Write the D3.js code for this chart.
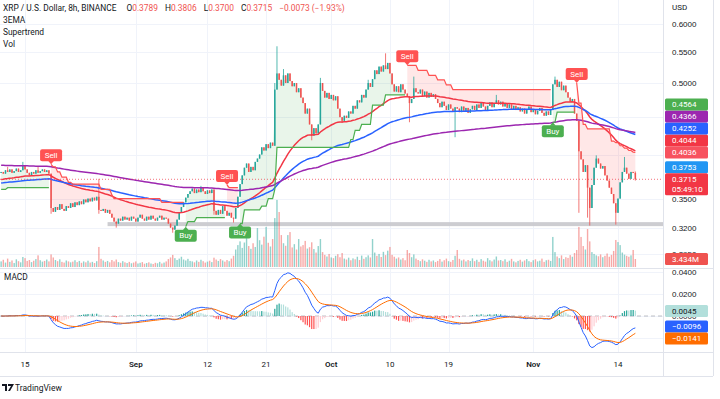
<!DOCTYPE html>
<html>
<head>
<meta charset="utf-8">
<script src="https://cdn.jsdelivr.net/npm/d3@7"></script>
<style>
  body { margin: 0; background: #fff; }
  svg { display: block; font-family: Roboto, "Liberation Sans", sans-serif; }
</style>
</head>
<body>
<svg id="chart" width="720" height="399"></svg>
<script>
// ---- data (Aug 11 - Nov 16, 2022) ----
var firstOpen = 0.379;
var closes = [
  0.380, 0.378, 0.382, 0.380, 0.383, 0.379, 0.381, 0.384, 0.380, 0.382,
  0.388, 0.383, 0.379, 0.376, 0.380, 0.378, 0.382, 0.379, 0.381, 0.383,
  0.380, 0.382, 0.378,
  0.340, 0.336, 0.341, 0.338, 0.344, 0.339, 0.337, 0.342, 0.340, 0.345,
  0.341, 0.346, 0.343, 0.347, 0.344, 0.349, 0.346, 0.350, 0.347, 0.351, 0.348, 0.352,
  0.338,
  0.337, 0.339, 0.335, 0.338, 0.334,
  0.330, 0.326, 0.324, 0.329, 0.327, 0.331, 0.328, 0.330,
  0.327, 0.331, 0.329, 0.326, 0.330, 0.333, 0.329, 0.327, 0.331, 0.328, 0.332, 0.329, 0.327, 0.330, 0.332, 0.328, 0.330, 0.329,
  0.324, 0.320, 0.318, 0.322,
  0.328, 0.335, 0.341, 0.346, 0.351, 0.355, 0.358,
  0.361, 0.356, 0.360, 0.357, 0.362, 0.358, 0.355, 0.359, 0.356, 0.360,
  0.337,
  0.333, 0.338, 0.334, 0.342, 0.337, 0.332, 0.335, 0.330,
  0.329,
  0.340, 0.352, 0.366, 0.376, 0.385,
  0.390, 0.380, 0.386, 0.382, 0.392, 0.396, 0.401,
  0.410, 0.406, 0.414, 0.409, 0.416, 0.412,
  0.490, 0.515,
  0.505, 0.496, 0.512, 0.500, 0.515, 0.503, 0.495,
  0.500, 0.486, 0.492, 0.478,
  0.470, 0.455, 0.462, 0.440, 0.425,
  0.435, 0.428, 0.440,
  0.500,
  0.488, 0.478, 0.485, 0.476, 0.482, 0.474, 0.480,
  0.462, 0.450, 0.445, 0.452,
  0.449, 0.458, 0.455, 0.466, 0.462, 0.474, 0.471, 0.482, 0.478, 0.490,
  0.500, 0.494, 0.506,
  0.520, 0.514, 0.526, 0.518, 0.528, 0.522, 0.532,
  0.515, 0.498, 0.487,
  0.495, 0.486, 0.498, 0.490, 0.484,
  0.480, 0.470, 0.476,
  0.492, 0.486,
  0.484, 0.490, 0.480, 0.487, 0.478, 0.485, 0.479, 0.483, 0.476,
  0.470, 0.464, 0.472, 0.466, 0.460, 0.468, 0.462, 0.458, 0.464,
  0.462, 0.457, 0.465, 0.459, 0.463, 0.456, 0.461, 0.466,
  0.460, 0.468, 0.463, 0.470, 0.465, 0.459, 0.466, 0.471, 0.464, 0.469, 0.474, 0.468,
  0.472, 0.465, 0.470, 0.463, 0.468, 0.461, 0.466, 0.460,
  0.464, 0.458, 0.462, 0.455, 0.460, 0.465, 0.457, 0.461, 0.454, 0.459, 0.463, 0.456, 0.452, 0.458, 0.453, 0.460,
  0.498, 0.505,
  0.494, 0.502, 0.489, 0.496, 0.486,
  0.478, 0.472, 0.476,
  0.455, 0.445,
  0.405, 0.395, 0.380, 0.388, 0.362, 0.340,
  0.365, 0.385, 0.396,
  0.390, 0.384, 0.387, 0.376, 0.370, 0.362, 0.355, 0.345,
  0.335,
  0.350, 0.368, 0.380, 0.385, 0.378,
  0.372, 0.380, 0.3789, 0.3715
];

// notable wicks: [candle index, price]
var wickHighs = [[3, 0.386], [10, 0.392], [17, 0.386], [45, 0.372], [92, 0.364], [126, 0.500], [127, 0.560],
  [130, 0.522], [147, 0.508], [169, 0.505], [177, 0.548], [190, 0.510], [228, 0.482], [255, 0.510],
  [274, 0.400], [287, 0.398], [292, 0.3806]];
var wickLows = [[23, 0.334], [45, 0.334], [53, 0.320], [79, 0.315], [98, 0.333], [107, 0.325], [143, 0.419],
  [157, 0.442], [188, 0.443], [209, 0.423], [266, 0.335], [270, 0.330], [271, 0.322], [283, 0.323], [292, 0.3700]];

// volume, millions
var volumes = [
  2.4, 3.1, 1.9, 3.6, 2.2, 2.8, 1.7, 3.3, 2.5, 2.0,
  4.3, 3.8, 2.6, 3.0, 2.1, 2.7, 3.4, 5.0, 2.9, 2.3,
  2.6, 3.2, 2.4,
  5.4, 4.1, 3.0, 2.5, 3.3, 2.2, 1.9, 2.8, 2.4, 2.0,
  2.3, 2.9, 2.1, 2.6, 1.8, 2.4, 2.0, 2.7, 1.9, 2.2, 1.7, 2.5,
  8.6,
  3.5, 2.8, 2.2, 2.6, 2.0,
  3.0, 2.4, 3.2, 2.1, 1.8, 2.5, 2.0, 1.7,
  2.2, 1.6, 1.9, 2.4, 1.5, 1.8, 2.1, 1.4, 1.7, 2.0, 1.5, 1.3, 1.8, 1.6, 2.2, 1.5, 1.9, 2.4,
  3.4, 4.1, 5.2, 3.8,
  3.0, 3.6, 4.4, 3.2, 2.8, 3.5, 2.6,
  2.4, 2.0, 2.8, 2.2, 3.1, 2.5, 1.9, 2.3, 2.7, 2.1,
  4.0,
  3.2, 2.6, 3.4, 2.8, 2.3, 3.0, 2.5, 3.6,
  4.8,
  7.5, 9.4, 11.0, 8.2, 10.5,
  12.4, 9.0, 7.8, 10.2, 8.6, 16.7, 11.5,
  9.6, 13.0, 17.2, 10.4, 8.8, 12.0,
  21.0, 28.8,
  23.6, 13.7, 10.2, 9.1, 13.7, 15.0, 8.4,
  9.8, 7.5, 12.0, 8.8,
  9.4, 11.2, 7.9, 8.5, 10.6,
  7.7, 6.2, 9.0,
  12.0,
  6.4, 5.2, 4.5, 5.6, 4.1, 3.8, 4.8,
  5.5, 4.2, 6.0, 3.6,
  3.2, 4.0, 2.9, 3.7, 3.3, 4.4, 3.0, 4.9, 3.5, 4.2,
  5.0, 4.1, 12.0,
  6.2, 4.8, 5.6, 4.3, 6.5, 5.1, 7.0,
  8.6, 5.2, 4.4,
  3.6, 4.1, 3.2, 3.8, 2.9,
  7.3, 6.0, 4.2,
  5.4, 3.6,
  3.0, 2.5, 3.3, 2.7, 2.2, 3.1, 2.4, 2.8, 2.1,
  2.6, 3.4, 2.3, 2.9, 3.6, 2.5, 2.2, 3.0, 4.8,
  7.3, 3.5, 2.8, 3.2, 2.4, 3.0, 2.6, 3.7,
  2.5, 3.1, 2.2, 3.4, 2.7, 2.3, 3.8, 2.9, 2.4, 3.2, 4.5, 2.8,
  3.0, 2.5, 3.3, 2.2, 2.7, 3.5, 2.4, 2.0,
  2.6, 3.1, 2.3, 2.8, 3.4, 2.5, 2.1, 2.9, 3.3, 2.4, 2.7, 3.6, 2.2, 2.9, 3.1, 2.6,
  12.9, 6.4,
  4.5, 3.8, 5.0, 3.4, 4.2,
  3.9, 5.1, 4.4,
  6.0, 7.3,
  17.2, 12.9, 9.0, 7.5, 16.3, 11.0,
  6.4, 5.6, 5.0,
  4.6, 5.4, 4.2, 4.8, 5.8, 4.4, 5.2, 6.9,
  11.6,
  10.7, 9.4, 6.2, 5.3, 4.8,
  4.4, 5.0, 7.3, 3.434
];

// 3EMA: periods and the values the lines start from at the left edge
var emaPeriods = [50, 100, 200];
var emaSeeds = [0.371, 0.367, 0.388];

// Supertrend segments: [candle index, level], level held until the next point
var trendUp = [
  [[0, 0.360], [3, 0.362], [22, 0.362]],
  [[85, 0.321], [86, 0.326], [90, 0.330], [103, 0.330]],
  [[110, 0.324], [112, 0.338], [120, 0.342], [123, 0.350], [126, 0.360], [127, 0.410], [161, 0.420],
   [163, 0.432], [166, 0.440], [171, 0.467], [177, 0.482], [186, 0.482]],
  [[254, 0.443], [256, 0.457], [264, 0.457]]
];
var trendDown = [
  [[23, 0.389], [24, 0.386], [26, 0.380], [28, 0.374], [31, 0.368], [33, 0.366], [46, 0.360], [51, 0.354],
   [52, 0.350], [74, 0.346], [84, 0.346]],
  [[104, 0.365], [105, 0.362], [109, 0.362]],
  [[187, 0.528], [192, 0.520], [197, 0.512], [201, 0.505], [205, 0.497], [208, 0.490], [253, 0.490]],
  [[265, 0.500], [266, 0.470], [268, 0.440], [270, 0.434], [280, 0.434], [281, 0.418], [283, 0.416],
   [285, 0.412], [287, 0.409], [289, 0.406], [291, 0.404], [292, 0.4036]]
];

var priceTicks = [0.6, 0.55, 0.5, 0.45, 0.4, 0.35, 0.32, 0.295];
var macdTicks = [0.04, 0.02, 0, -0.02];
var timeTicks = [["2022-08-15", "15"], ["2022-09-01", "Sep"], ["2022-09-12", "12"], ["2022-09-21", "21"],
  ["2022-10-01", "Oct"], ["2022-10-10", "10"], ["2022-10-19", "19"], ["2022-11-01", "Nov"], ["2022-11-14", "14"]];

var sideValues = [0.4564, 0.4366, 0.4252, 0.4044, 0.4036, 0.3753];
var lastPrice = 0.3715;
var countdown = "05:49:10";
var macdSideValues = [0.0045, -0.0096, -0.0141];
var ohlcText = [["O", "0.3789"], ["H", "0.3806"], ["L", "0.3700"], ["C", "0.3715"]];
var changeText = "\u22120.0073 (\u22121.93%)";
var zoneLevels = [0.3255, 0.3215];
var zoneStart = 49;

// ---- layout ----
var plotRight = 663, priceBottom = 267, macdTop = 269, macdBottom = 352;
var upColor = "#26a69a", downColor = "#ef5350";
var emaColors = ["#f23645", "#2962ff", "#9c27b0"];
var sideColors = ["#4caf50", "#9c27b0", "#2962ff", "#f23645", "#f7525f", "#2196f3"];
var macdSideColors = ["#b2dfdb", "#2962ff", "#ff6d00"];
var macdSideText = ["#131722", "#fff", "#fff"];

var svg = d3.select("#chart");
var dayMs = 864e5, hour = 36e5;
var sep1 = Date.UTC(2022, 8, 1);
var firstTime = Date.UTC(2022, 7, 11, 8);

var x = d3.scaleUtc()
  .domain([new Date(sep1 - 20.84 * dayMs), new Date(sep1 + 80.91 * dayMs)])
  .range([0, plotRight]);
var y = d3.scaleLog().domain([0.2834, 0.646]).range([priceBottom, 0]);
var yVol = d3.scaleLinear().domain([0, 114.6]).range([priceBottom, 0]);
var yMacd = d3.scaleLinear().domain([-0.0327, 0.0427]).range([macdBottom, macdTop]);

function xi(i) { return x(new Date(firstTime + i * 8 * hour)); }

// candles
var candles = closes.map(function (c, i) {
  var o = i === 0 ? firstOpen : closes[i - 1];
  return { i: i, o: o, c: c, h: Math.max(o, c), l: Math.min(o, c), v: volumes[i] };
});
wickHighs.forEach(function (w) { candles[w[0]].h = Math.max(candles[w[0]].h, w[1]); });
wickLows.forEach(function (w) { candles[w[0]].l = Math.min(candles[w[0]].l, w[1]); });

function ema(values, period, seed) {
  var k = 2 / (period + 1), prev = seed;
  return values.map(function (v) { prev = prev + k * (v - prev); return prev; });
}

// clip paths
var defs = svg.append("defs");
defs.append("clipPath").attr("id", "clipPrice").append("rect")
  .attr("x", 0).attr("y", 0).attr("width", plotRight).attr("height", priceBottom);
defs.append("clipPath").attr("id", "clipMacd").append("rect")
  .attr("x", 0).attr("y", macdTop).attr("width", plotRight).attr("height", macdBottom - macdTop);

// grid
var grid = svg.append("g").attr("stroke", "#f0f3fa").attr("stroke-width", 1);
timeTicks.forEach(function (t) {
  var gx = Math.round(x(new Date(t[0] + "T00:00:00Z"))) + 0.5;
  grid.append("line").attr("x1", gx).attr("x2", gx).attr("y1", 0).attr("y2", macdBottom);
});
priceTicks.forEach(function (p) {
  var gy = Math.round(y(p)) + 0.5;
  grid.append("line").attr("x1", 0).attr("x2", plotRight).attr("y1", gy).attr("y2", gy);
});
macdTicks.forEach(function (m) {
  var gy = Math.round(yMacd(m)) + 0.5;
  grid.append("line").attr("x1", 0).attr("x2", plotRight).attr("y1", gy).attr("y2", gy);
});

var pricePane = svg.append("g").attr("clip-path", "url(#clipPrice)");

// grey zone
pricePane.append("rect")
  .attr("x", xi(zoneStart)).attr("width", plotRight - xi(zoneStart))
  .attr("y", y(zoneLevels[0])).attr("height", y(zoneLevels[1]) - y(zoneLevels[0]))
  .attr("fill", "#c8c8cc").attr("opacity", 0.9);

// volume
pricePane.append("g").selectAll("rect").data(candles).enter().append("rect")
  .attr("x", function (d) { return xi(d.i) - 0.7; })
  .attr("width", 1.4)
  .attr("y", function (d) { return yVol(d.v); })
  .attr("height", function (d) { return priceBottom - yVol(d.v); })
  .attr("fill", function (d) { return d.c >= d.o ? upColor : downColor; })
  .attr("opacity", 0.5);

// supertrend per-bar levels
function expand(seg) {
  var out = [], k = 0;
  for (var i = seg[0][0]; i <= seg[seg.length - 1][0]; i++) {
    while (k + 1 < seg.length && seg[k + 1][0] <= i) k++;
    out.push({ i: i, v: seg[k][1], mid: (candles[i].o + candles[i].c) / 2 });
  }
  return out;
}
var stArea = d3.area().x(function (d) { return xi(d.i); })
  .y0(function (d) { return y(d.v); }).y1(function (d) { return y(d.mid); });
var stLine = d3.line().x(function (d) { return xi(d.i); }).y(function (d) { return y(d.v); });

trendUp.forEach(function (seg) {
  pricePane.append("path").attr("d", stArea(expand(seg))).attr("fill", "rgba(76,175,80,0.12)");
});
trendDown.forEach(function (seg) {
  pricePane.append("path").attr("d", stArea(expand(seg))).attr("fill", "rgba(255,82,82,0.14)");
});

// candles
var cg = pricePane.append("g");
cg.selectAll("line").data(candles).enter().append("line")
  .attr("x1", function (d) { return xi(d.i); }).attr("x2", function (d) { return xi(d.i); })
  .attr("y1", function (d) { return y(d.h); }).attr("y2", function (d) { return y(d.l); })
  .attr("stroke", function (d) { return d.c >= d.o ? upColor : downColor; })
  .attr("stroke-width", 0.8);
cg.selectAll("rect").data(candles).enter().append("rect")
  .attr("x", function (d) { return xi(d.i) - 0.75; })
  .attr("width", 1.5)
  .attr("y", function (d) { return y(Math.max(d.o, d.c)); })
  .attr("height", function (d) { return Math.max(1, Math.abs(y(d.o) - y(d.c))); })
  .attr("fill", function (d) { return d.c >= d.o ? upColor : downColor; });

// 3EMA
emaPeriods.forEach(function (p, k) {
  var vals = ema(closes, p, emaSeeds[k]);
  pricePane.append("path")
    .datum(vals)
    .attr("d", d3.line().x(function (d, i) { return xi(i); }).y(function (d) { return y(d); }))
    .attr("fill", "none").attr("stroke", emaColors[k]).attr("stroke-width", 1.5);
});

// supertrend lines
trendUp.forEach(function (seg) {
  pricePane.append("path").attr("d", stLine(expand(seg)))
    .attr("fill", "none").attr("stroke", "#4caf50").attr("stroke-width", 1.2);
});
trendDown.forEach(function (seg) {
  pricePane.append("path").attr("d", stLine(expand(seg)))
    .attr("fill", "none").attr("stroke", "#ff5252").attr("stroke-width", 1.2);
});

// last price line
pricePane.append("line")
  .attr("x1", 0).attr("x2", plotRight).attr("y1", y(lastPrice)).attr("y2", y(lastPrice))
  .attr("stroke", "#f23645").attr("stroke-width", 1).attr("stroke-dasharray", "1,2").attr("opacity", 0.7);

// buy / sell markers
function marker(segs, i, kind) {
  var seg = segs.filter(function (s) { return s[0][0] === i; })[0];
  var tx = xi(i), tip = y(seg[0][1]);
  var col = kind === "Buy" ? "#4caf50" : "#ff5252";
  var g = svg.append("g");
  var dir = kind === "Buy" ? 1 : -1;
  g.append("path")
    .attr("d", "M" + (tx - 3) + "," + (tip + dir * 3.5) + "L" + (tx + 3) + "," + (tip + dir * 3.5) + "L" + tx + "," + tip + "Z")
    .attr("fill", col);
  var top = kind === "Buy" ? tip + 3 : tip - 15;
  g.append("rect").attr("x", tx - 11).attr("y", top).attr("width", 22).attr("height", 12)
    .attr("rx", 2).attr("fill", col);
  g.append("text").attr("x", tx).attr("y", top + 6).attr("dy", "0.35em")
    .attr("text-anchor", "middle").attr("font-size", 8).attr("fill", "#fff").text(kind);
}
[23, 104, 187, 265].forEach(function (i) { marker(trendDown, i, "Sell"); });
[85, 110, 254].forEach(function (i) { marker(trendUp, i, "Buy"); });

// MACD
var fast = ema(closes, 12, closes[0]), slow = ema(closes, 26, closes[0]);
var macd = fast.map(function (f, i) { return f - slow[i]; });
var signal = ema(macd, 9, 0);
var hist = macd.map(function (m, i) { return m - signal[i]; });

var macdPane = svg.append("g").attr("clip-path", "url(#clipMacd)");
macdPane.append("line").attr("x1", 0).attr("x2", plotRight)
  .attr("y1", yMacd(0)).attr("y2", yMacd(0))
  .attr("stroke", "#9598a1").attr("stroke-dasharray", "4,3").attr("opacity", 0.6);
macdPane.append("g").selectAll("rect").data(hist).enter().append("rect")
  .attr("x", function (d, i) { return xi(i) - 0.6; })
  .attr("width", 1.2)
  .attr("y", function (d) { return Math.min(yMacd(d), yMacd(0)); })
  .attr("height", function (d) { return Math.abs(yMacd(d) - yMacd(0)); })
  .attr("fill", function (d, i) {
    var prev = i > 0 ? hist[i - 1] : 0;
    if (d >= 0) return d > prev ? "#26a69a" : "#b2dfdb";
    return d < prev ? "#ff5252" : "#ffcdd2";
  });
var macdLine = d3.line().x(function (d, i) { return xi(i); }).y(function (d) { return yMacd(d); });
macdPane.append("path").datum(macd).attr("d", macdLine)
  .attr("fill", "none").attr("stroke", "#2962ff").attr("stroke-width", 1);
macdPane.append("path").datum(signal).attr("d", macdLine)
  .attr("fill", "none").attr("stroke", "#ff6d00").attr("stroke-width", 1);

// frame lines
var frame = svg.append("g").attr("stroke", "#e0e3eb").attr("stroke-width", 1);
frame.append("line").attr("x1", 0).attr("x2", 713).attr("y1", 268.5).attr("y2", 268.5);
frame.append("line").attr("x1", 0).attr("x2", 713).attr("y1", 352.5).attr("y2", 352.5);
frame.append("line").attr("x1", 0).attr("x2", 713).attr("y1", 376.5).attr("y2", 376.5);
frame.append("line").attr("x1", plotRight + 0.5).attr("x2", plotRight + 0.5).attr("y1", 0).attr("y2", 376);
frame.append("line").attr("x1", 713.5).attr("x2", 713.5).attr("y1", 0).attr("y2", 376);

// ---- right-scale labels: positions first, so covered ticks can be skipped ----
var axisX = plotRight + 9;
var lastY = y(lastPrice);
var lastVol = volumes[volumes.length - 1];
var priceLabels = [];
var bound = lastY - 6;
sideValues.slice().sort(function (a, b) { return a - b; }).forEach(function (v) {
  var k = sideValues.indexOf(v);
  var cy = Math.min(y(v), bound - 6);
  bound = cy - 6;
  priceLabels.push({ cy: cy, h: 12, fill: sideColors[k], color: "#fff", lines: [v.toFixed(4)] });
});
priceLabels.push({ cy: lastY, h: 22, fill: "#f23645", color: "#fff", lines: [lastPrice.toFixed(4), countdown] });
priceLabels.push({ cy: yVol(lastVol), h: 12, fill: "#ef5350", color: "#fff", lines: [lastVol.toFixed(3) + "M"] });

var macdLabels = [];
var mBound = -Infinity;
macdSideValues.forEach(function (v, k) {
  var cy = Math.max(yMacd(v), mBound + 6);
  mBound = cy + 6;
  macdLabels.push({ cy: cy, h: 12, fill: macdSideColors[k], color: macdSideText[k],
    lines: [v.toFixed(4).replace("-", "\u2212")] });
});

function covered(ty, labels) {
  return labels.some(function (l) { return Math.abs(l.cy - ty) < 3; });
}

// price axis
svg.append("g").attr("transform", "translate(" + (axisX - 4) + ",0)")
  .call(d3.axisRight(y).tickValues(priceTicks.filter(function (p) { return !covered(y(p), priceLabels); }))
    .tickSize(0).tickPadding(4).tickFormat(d3.format(".4f")))
  .call(function (g) { g.select(".domain").remove(); })
  .selectAll("text").attr("font-size", 8).attr("fill", "#131722").attr("font-family", null);
svg.append("text").attr("x", axisX).attr("y", 7).attr("dy", "0.35em")
  .attr("font-size", 8).attr("fill", "#131722").text("USD");

// macd axis
svg.append("g").attr("transform", "translate(" + (axisX - 4) + ",0)")
  .call(d3.axisRight(yMacd).tickValues(macdTicks.filter(function (m) { return !covered(yMacd(m), macdLabels); }))
    .tickSize(0).tickPadding(4).tickFormat(d3.format(".4f")))
  .call(function (g) { g.select(".domain").remove(); })
  .selectAll("text").attr("font-size", 8).attr("fill", "#131722").attr("font-family", null)
  .text(function (d) { return d3.format(".4f")(d).replace("-", "\u2212"); });

function sideLabel(l) {
  var g = svg.append("g");
  g.append("rect").attr("x", plotRight + 2).attr("y", l.cy - 6).attr("width", 43).attr("height", l.h)
    .attr("rx", 1.5).attr("fill", l.fill);
  l.lines.forEach(function (t, k) {
    g.append("text").attr("x", axisX).attr("y", l.cy + k * 10).attr("dy", "0.35em")
      .attr("font-size", 8).attr("fill", l.color).text(t);
  });
}
priceLabels.forEach(sideLabel);
macdLabels.forEach(sideLabel);

// time axis
timeTicks.forEach(function (t) {
  var isMonth = isNaN(+t[1]);
  svg.append("text").attr("x", x(new Date(t[0] + "T00:00:00Z"))).attr("y", 364).attr("dy", "0.35em")
    .attr("text-anchor", "middle").attr("font-size", 8)
    .attr("font-weight", isMonth ? 600 : 400).attr("fill", "#131722").text(t[1]);
});

// legend text
var header = svg.append("text").attr("x", 3).attr("y", 8).attr("dy", "0.35em")
  .attr("font-size", 8.4).attr("fill", "#131722");
header.append("tspan").text("XRP / U.S. Dollar, 8h, BINANCE");
ohlcText.forEach(function (p, k) {
  header.append("tspan").attr("dx", k === 0 ? 10 : 7).text(p[0]);
  header.append("tspan").attr("fill", "#ef5350").text(p[1]);
});
header.append("tspan").attr("dx", 7).attr("fill", "#ef5350").text(changeText);

["3EMA", "Supertrend", "Vol"].forEach(function (t, k) {
  svg.append("text").attr("x", 3).attr("y", 20 + k * 12).attr("dy", "0.35em")
    .attr("font-size", 8.4).attr("fill", "#131722").text(t);
});
svg.append("text").attr("x", 4).attr("y", 277).attr("dy", "0.35em")
  .attr("font-size", 8.4).attr("fill", "#131722").text("MACD");

// TradingView mark
var logo = svg.append("g").attr("transform", "translate(2,384)");
logo.append("path").attr("d", "M0,0H5V7H3V2H0Z").attr("fill", "#131722");
logo.append("path").attr("d", "M6,0H12L8,7H6L9,2H6Z").attr("fill", "#131722");
svg.append("text").attr("x", 15).attr("y", 388).attr("dy", "0.35em")
  .attr("font-size", 8.5).attr("fill", "#131722").text("TradingView");
</script>
</body>
</html>
